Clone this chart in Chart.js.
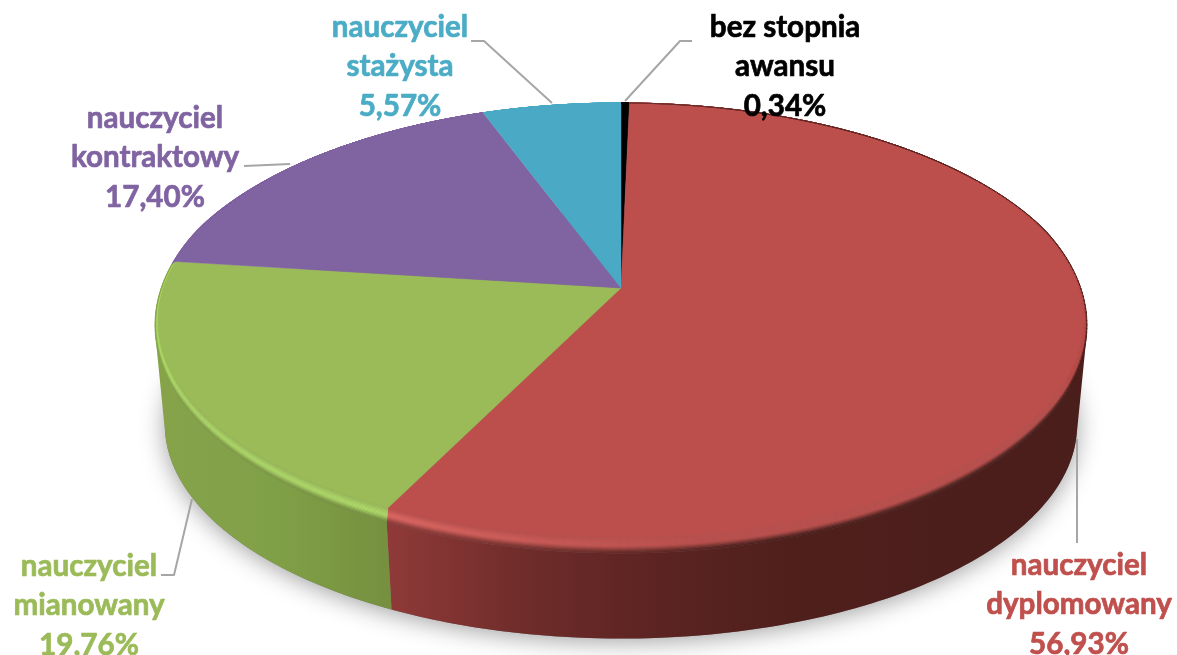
<!DOCTYPE html>
<html><head><meta charset="utf-8">
<style>html,body{margin:0;padding:0;background:#fff;overflow:hidden}canvas{display:block}</style>
<script src="https://cdn.jsdelivr.net/npm/chart.js@4"></script>
</head><body><canvas id="c" width="1177" height="655"></canvas>
<script>
const categories = ["bez stopnia awansu","nauczyciel dyplomowany","nauczyciel mianowany","nauczyciel kontraktowy","nauczyciel stażysta"];
const values = [0.34,56.93,19.76,17.40,5.57];
const labelLines = [["bez stopnia","awansu"],["nauczyciel","dyplomowany"],["nauczyciel","mianowany"],["nauczyciel","kontraktowy"],["nauczyciel","stażysta"]];
const topColors = ["#000000","#bc4f4c","#9bbb59","#8063a1","#4aa9c5"];
const textColors = ["#000000","#c0504d","#9bbb59","#8064a2","#4bacc6"];
const labelCenters = [785,1079,89,155,400];
const labelBaselines = [37,575,576,128,37];
const leaderLines = [
  [[692,41],[680,41],[625,101]],
  [[1077,439],[1077,543]],
  [[161,575],[174,575],[192,499]],
  [[244,166],[290,164]],
  [[471,41],[484,41],[552,103]]
];
const FONT = 'bold 29.6px Lato, Carlito, sans-serif';
const LINE = 39.3;

const RX = 458, RY = 212.4, K = 0.148, DROP = 105, SHRINK = 0.985, RIM_Y = 16, RIM_X = 3;

function hex(c){return [1,3,5].map(i=>parseInt(c.substr(i,2),16));}
function mix(a,b,t){return a.map((v,i)=>v+(b[i]-v)*t);}
function css(c){return 'rgb('+c.map(Math.round).join(',')+')';}
function clamp(t){return Math.max(0,Math.min(1,t));}
function smooth(t){return t*t*(3-2*t);}

const pie3d = {
  id:'pie3d',
  beforeDatasetDraw(chart,args){
    const ctx = chart.ctx, arcs = chart.getDatasetMeta(args.index).data;
    const cx = arcs[0].x, cy = arcs[0].y;
    const F = a=>{const u=Math.cos(a),v=Math.sin(a),w=1-K*v;return [cx+RX*u/w, cy+RY*v/w, u, v];};
    const O = a=>{const p=F(a);return [p[0]+RIM_X*p[2]*clamp((p[3]+0.75)/0.5), p[1]+RIM_Y*Math.max(0,p[3]+0.3)/1.3];};
    const B = a=>{const p=F(a);return [cx+(p[0]-cx)*SHRINK, cy+DROP+(p[1]-cy)*SHRINK];};
    const STEP = Math.PI/180;

    // soft shadow beneath the body
    ctx.save();
    ctx.shadowColor='rgba(0,0,0,0.38)';ctx.shadowBlur=24;ctx.shadowOffsetX=0;ctx.shadowOffsetY=3;
    ctx.fillStyle='#777';ctx.beginPath();
    for(let i=0;i<=360;i++){const p=B(i*STEP);i?ctx.lineTo(p[0],p[1]):ctx.moveTo(p[0],p[1]);}
    ctx.closePath();ctx.fill();ctx.restore();

    // side walls
    const sideStops = {
      1:[[0,'#4a1e1b'],[0.42,'#4f1f1c'],[0.62,'#5c2422'],[0.8,'#6e2c2a'],[1,'#8f3a38']],
      2:[[0,'#86a34a'],[0.5,'#80a047'],[1,'#76903f']]
    };
    const sideGrads = {};
    for(const i of [1,2]){
      const g = i===1?ctx.createLinearGradient(1085,0,388,0):ctx.createLinearGradient(160,0,388,0);
      sideStops[i].forEach(s=>g.addColorStop(s[0],s[1]));
      sideGrads[i]=g;
    }
    arcs.forEach((el,i)=>{
      if(!sideGrads[i])return;
      ctx.beginPath();
      for(let a=el.startAngle;a<el.endAngle;a+=STEP){
        const b=Math.min(a+STEP,el.endAngle);
        const q=[O(a),O(b),B(b),B(a)];
        let area=0;q.forEach((p,j)=>{const n=q[(j+1)%4];area+=p[0]*n[1]-n[0]*p[1];});
        const o=area>=0?q:q.slice().reverse();
        ctx.moveTo(o[0][0],o[0][1]);o.slice(1).forEach(p=>ctx.lineTo(p[0],p[1]));ctx.closePath();
      }
      ctx.fillStyle=sideGrads[i];ctx.fill();
    });

    // top faces
    arcs.forEach((el,i)=>{
      ctx.beginPath();ctx.moveTo(cx,cy);
      for(let a=el.startAngle;;a+=STEP/2){
        const b=Math.min(a,el.endAngle),p=F(b);ctx.lineTo(p[0],p[1]);
        if(a>=el.endAngle)break;
      }
      ctx.closePath();ctx.fillStyle=topColors[i];ctx.fill();
      ctx.strokeStyle=topColors[i];ctx.lineWidth=0.5;ctx.stroke();
    });

    // bevelled rim
    const highlights={1:[222,100,96],2:[174,218,104]};
    const BANDS=12;
    const lerp=(A,C,t)=>[A[0]+(C[0]-A[0])*t,A[1]+(C[1]-A[1])*t];
    arcs.forEach((el,i)=>{
      const base=hex(topColors[i]);
      for(let a=el.startAngle;a<el.endAngle;a+=STEP){
        const b=Math.min(a+STEP,el.endAngle),mid=(a+b)/2,x=F(mid)[0];
        let side=base,glow=0;
        if(i===1){
          const f=clamp((x-388)/697);
          side=mix([143,58,56],[74,30,27],Math.min(1,f*1.8));
          glow=Math.pow(Math.max(0,1-f*2.2),1.2);
        }else if(i===2){
          side=mix([134,163,74],[118,144,63],clamp((x-160)/228));
          glow=1;
        }
        const hi=highlights[i]||base;
        for(let n=0;n<BANDS;n++){
          const t0=n/BANDS,t1=(n+1)/BANDS,tm=(t0+t1)/2;
          const peak=mix(base,hi,glow);
          const col=tm<0.5?mix(base,peak,smooth(tm/0.5)):mix(peak,side,smooth((tm-0.5)/0.5));
          const fa=F(a),oa=O(a),fb=F(b),ob=O(b);
          const q=[lerp(fa,oa,t0),lerp(fb,ob,t0),lerp(fb,ob,t1),lerp(fa,oa,t1)];
          ctx.beginPath();ctx.moveTo(q[0][0],q[0][1]);q.slice(1).forEach(p=>ctx.lineTo(p[0],p[1]));ctx.closePath();
          ctx.fillStyle=css(col);ctx.fill();
          ctx.strokeStyle=css(col);ctx.lineWidth=0.4;ctx.stroke();
        }
      }
    });
    return false;
  },
  afterDatasetsDraw(chart){
    const ctx=chart.ctx;
    ctx.save();
    ctx.strokeStyle='#a6a6a6';ctx.lineWidth=2;ctx.lineJoin='round';
    leaderLines.forEach(l=>{ctx.beginPath();l.forEach((p,j)=>j?ctx.lineTo(p[0],p[1]):ctx.moveTo(p[0],p[1]));ctx.stroke();});
    ctx.font=FONT;ctx.textAlign='center';ctx.textBaseline='alphabetic';ctx.lineJoin='round';
    values.forEach((v,i)=>{
      ctx.fillStyle=textColors[i];ctx.strokeStyle=textColors[i];ctx.lineWidth=0.7;
      const lines=labelLines[i].concat([v.toFixed(2).replace('.',',')+'%']);
      lines.forEach((s,j)=>{const y=labelBaselines[i]+j*LINE;ctx.fillText(s,labelCenters[i],y);ctx.strokeText(s,labelCenters[i],y);});
    });
    ctx.restore();
  }
};

new Chart(document.getElementById('c'),{
  type:'pie',
  data:{labels:categories,datasets:[{data:values,backgroundColor:topColors,borderWidth:0}]},
  options:{
    responsive:false,animation:false,
    layout:{padding:{left:65,right:0,top:0,bottom:79}},
    events:[],
    plugins:{legend:{display:false},tooltip:{enabled:false},title:{display:false}}
  },
  plugins:[pie3d]
});
</script></body></html>
